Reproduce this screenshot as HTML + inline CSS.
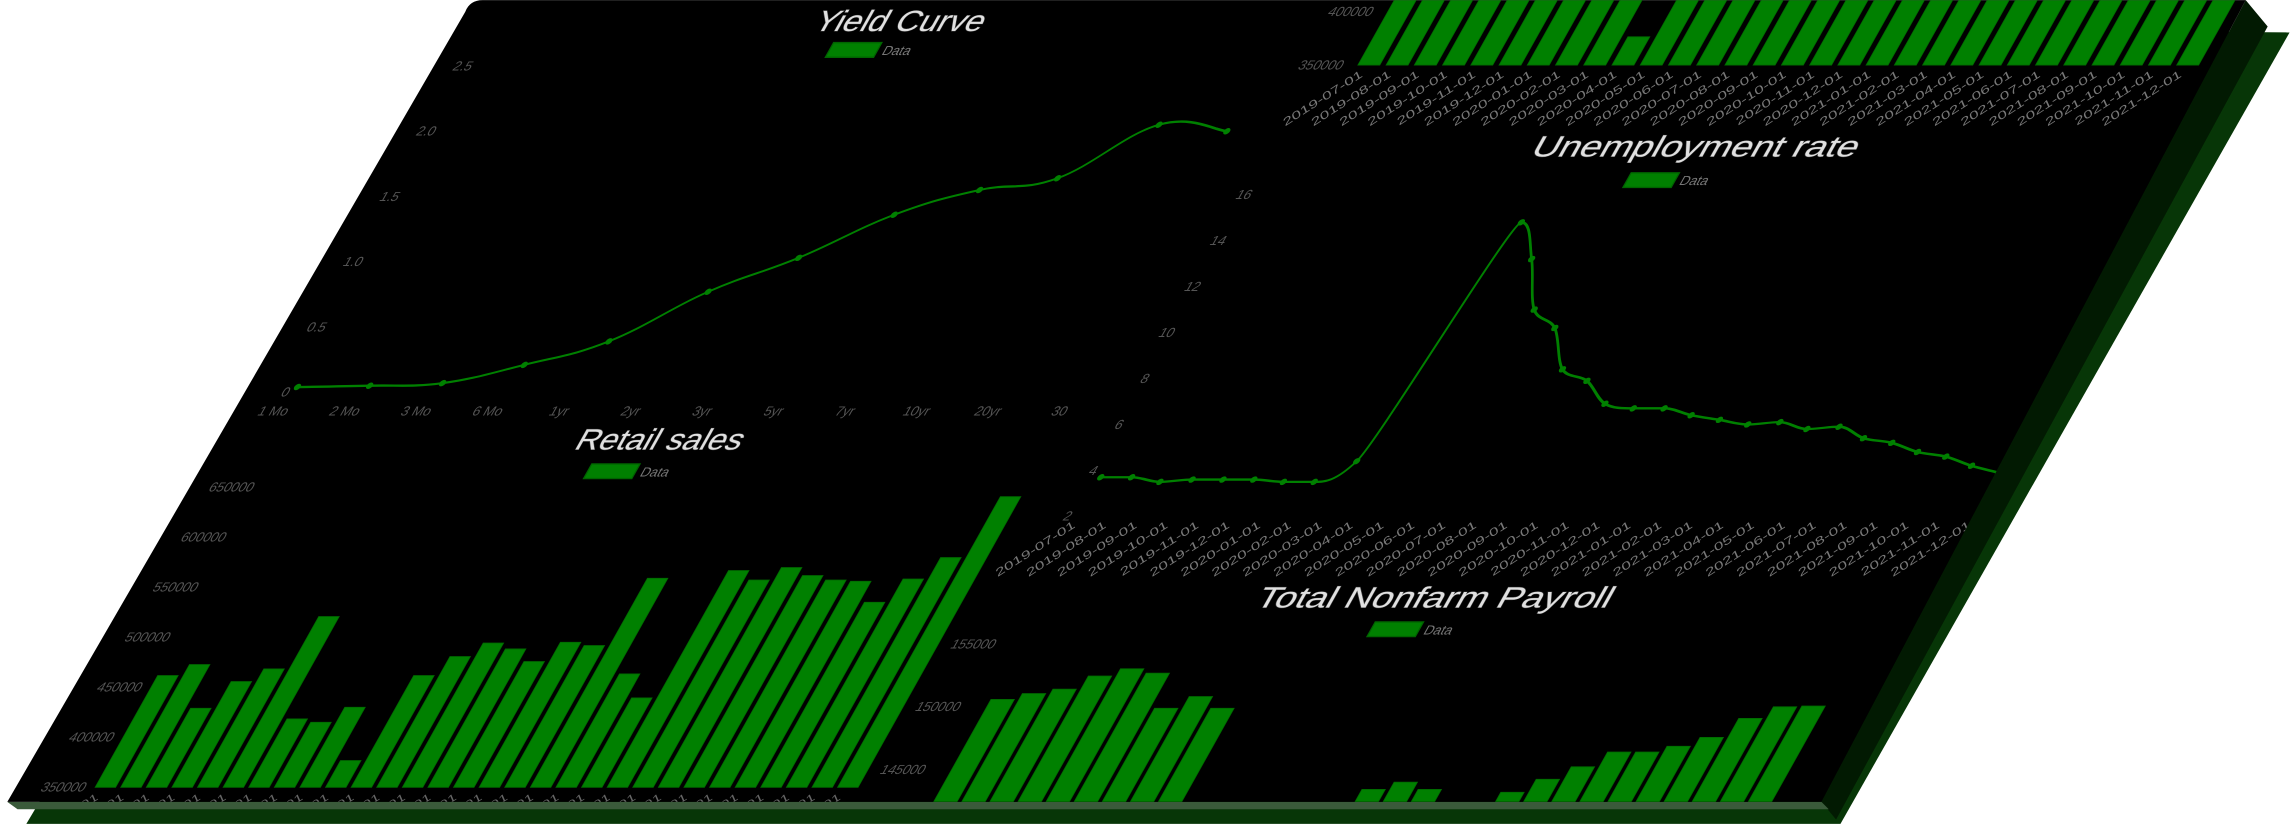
<!DOCTYPE html>
<html><head><meta charset="utf-8">
<style>
html,body{margin:0;padding:0;background:#fff;width:2294px;height:824px;overflow:hidden;}
svg{display:block;}
text{font-family:"Liberation Sans",sans-serif;}
</style></head>
<body>
<svg id="root" width="2294" height="824" viewBox="0 0 1568 563" xmlns="http://www.w3.org/2000/svg">
  <defs>
    <clipPath id="panelClip"><polygon points="330,0 1535,0 1245,548 5,548 318,8"/></clipPath>
  </defs>
  <polygon points="345,14 1565,22 1258,563 18,563" fill="#073607"/>
  <polygon points="1535,0 1550,18 1255,560 1245,548" fill="#021a02"/>
  <polygon points="5,548 1245,548 1250,553 12,553" fill="#3a5a3a"/>
  <path d="M330,0 L1535,0 L1245,548 L5,548 L318,8 Q321,0 330,0 Z" fill="#000"/>
  <g clip-path="url(#panelClip)">
    <g id="content" transform="matrix(1,0,-0.56,1,323,0)"></g>
  </g>
</svg>
<script>
// ---------- data ----------
const yieldLabels = ["1 Mo","2 Mo","3 Mo","6 Mo","1yr","2yr","3yr","5yr","7yr","10yr","20yr","30"];
const yieldValues = [0.04,0.05,0.07,0.21,0.39,0.77,1.03,1.36,1.55,1.64,2.05,2.0];
const yieldTicks = [0,0.5,1.0,1.5,2.0,2.5];
const yieldTickLabels = ["0","0.5","1.0","1.5","2.0","2.5"];

const months = ["2019-07-01","2019-08-01","2019-09-01","2019-10-01","2019-11-01","2019-12-01","2020-01-01","2020-02-01","2020-03-01","2020-04-01","2020-05-01","2020-06-01","2020-07-01","2020-08-01","2020-09-01","2020-10-01","2020-11-01","2020-12-01","2021-01-01","2021-02-01","2021-03-01","2021-04-01","2021-05-01","2021-06-01","2021-07-01","2021-08-01","2021-09-01","2021-10-01","2021-11-01","2021-12-01"];

const retailValues = [461700,472700,429000,455700,468300,520700,418300,415000,430000,376700,461700,480700,494300,488300,475700,495000,491700,559000,463300,439300,566700,557300,569700,561700,557300,556000,535000,558300,579700,640700];
const retailTicks = [350000,400000,450000,500000,550000,600000,650000];

const claimsValues = [450000,450000,450000,450000,450000,450000,450000,450000,450000,376600,450000,450000,450000,450000,450000,450000,450000,450000,450000,450000,450000,450000,450000,450000,450000,450000,450000,450000,450000,450000];
const claimsTicks = [350000,400000,450000];

const unempValues = [3.7,3.7,3.5,3.6,3.6,3.6,3.5,3.5,4.4,14.8,13.2,11.0,10.2,8.4,7.9,6.9,6.7,6.7,6.4,6.2,6.0,6.1,5.8,5.9,5.4,5.2,4.8,4.6,4.2,3.9];
const unempTicks = [2,4,6,8,10,12,14,16];

const payrollValues = [150580,151050,151400,152440,153020,152670,149880,150810,149880,130000,133000,137000,139000,141000,142000,143430,144010,143430,142300,142100,143200,144240,145230,146400,146400,146860,147560,149070,150000,150060];
const payrollTicks = [140000,145000,150000,155000];

// ---------- helpers ----------
const NS = "http://www.w3.org/2000/svg";
const content = document.getElementById("content");
function mk(tag, attrs, parent){
  const e = document.createElementNS(NS, tag);
  for (const k in attrs) e.setAttribute(k, attrs[k]);
  (parent||content).appendChild(e);
  return e;
}
function txt(str, attrs, parent){ const t = mk("text", attrs, parent); t.textContent = str; return t; }
function spline(pts, tension){
  let d = "M" + pts[0][0] + "," + pts[0][1];
  for (let i=0;i<pts.length-1;i++){
    const p0 = pts[Math.max(i-1,0)], p1 = pts[i], p2 = pts[i+1], p3 = pts[Math.min(i+2,pts.length-1)];
    const c1 = [p1[0] + (p2[0]-p0[0])*tension/2, p1[1] + (p2[1]-p0[1])*tension/2];
    const c2 = [p2[0] - (p3[0]-p1[0])*tension/2, p2[1] - (p3[1]-p1[1])*tension/2];
    d += " C" + c1[0] + "," + c1[1] + " " + c2[0] + "," + c2[1] + " " + p2[0] + "," + p2[1];
  }
  return d;
}
function monotone(pts){
  const n = pts.length, dx=[], dy=[], m=[], t=[];
  for (let i=0;i<n-1;i++){ dx[i]=pts[i+1][0]-pts[i][0]; dy[i]=pts[i+1][1]-pts[i][1]; m[i]=dy[i]/dx[i]; }
  t[0]=m[0]; t[n-1]=m[n-2];
  for (let i=1;i<n-1;i++){ t[i] = (m[i-1]*m[i] <= 0) ? 0 : (m[i-1]+m[i])/2; }
  for (let i=0;i<n-1;i++){
    if (m[i]===0){ t[i]=0; t[i+1]=0; continue; }
    const a=t[i]/m[i], b=t[i+1]/m[i], s=a*a+b*b;
    if (s>9){ const k=3/Math.sqrt(s); t[i]=k*a*m[i]; t[i+1]=k*b*m[i]; }
  }
  let d = "M"+pts[0][0]+","+pts[0][1];
  for (let i=0;i<n-1;i++){
    const h=dx[i]/3;
    d += " C"+(pts[i][0]+h)+","+(pts[i][1]+t[i]*h)+" "+(pts[i+1][0]-h)+","+(pts[i+1][1]-t[i+1]*h)+" "+pts[i+1][0]+","+pts[i+1][1];
  }
  return d;
}
function title(str, cx, y, len, name){
  const t = txt(str, {x:cx, y:y, "text-anchor":"middle", "font-size":20, fill:"#e0e0e0", textLength:len, lengthAdjust:"spacingAndGlyphs", style:"paint-order:stroke", stroke:"#444", "stroke-width":0.6});
  
  
}
function legend(cx, y, name){
  const g = mk("g", {});
  
  
  mk("rect", {x:cx-38, y:y-5, width:33, height:10, fill:"#008000", stroke:"#006400", "stroke-width":1}, g);
  txt("Data", {x:cx-1, y:y+3.5, "font-size":9, fill:"#777"}, g);
}

// ---------- Yield Curve ----------
(function(){
  const xs = i => 28.4 + 48.85*i;
  const ys = v => 268 - v*89.2;
  title("Yield Curve", 301, 21, 115, "yield-title");
  legend(301, 34, "yield-legend");
  yieldTicks.forEach((t,i)=>{
    const e = txt(yieldTickLabels[i], {x:25, y:ys(t)+3, "text-anchor":"end", "font-size":9, fill:"#555"});
    
    
  });
  yieldLabels.forEach((l,i)=>{
    const e = txt(l, {x:xs(i)-7, y:284, "text-anchor":"middle", "font-size":9, fill:"#555"});
    
    
  });
  const pts = yieldValues.map((v,i)=>[xs(i), ys(v)]);
  const line = mk("path", {d:spline(pts,0.4), fill:"none", stroke:"#008000", "stroke-width":1.6});
  
  
  pts.forEach(p=>{
    const c = mk("circle", {cx:p[0], cy:p[1], r:2.2, fill:"#008000"});
    
    
  });
})();

// ---------- Retail sales ----------
(function(){
  const xs = i => 43.3 + 17.5*i;
  const ys = v => 538 - (v-350000)/300000*205;
  title("Retail sales", 297, 307, 113, "retail-title");
  legend(297, 322, "retail-legend");
  retailTicks.forEach(t=>{
    const e = txt(String(t), {x:37, y:ys(t)+3, "text-anchor":"end", "font-size":9, fill:"#555"});
    
    
  });
  retailValues.forEach((v,i)=>{
    const r = mk("rect", {x:xs(i), y:ys(v), width:14, height:538-ys(v), fill:"#008000", stroke:"#006a00", "stroke-width":0.6});
    
    
  });
  months.forEach((m,i)=>{
    const cx = xs(i)+7, cy = 546;
    const e = txt(m, {x:cx, y:cy, "text-anchor":"end", "font-size":9, fill:"#666", transform:"rotate(-45 "+cx+" "+cy+")"});
    
    
  });
})();

// ---------- Claims (top right, cut) ----------
(function(){
  const xs = i => 630 + 19.3*i;
  const ys = v => 44.4 - (v-350000)/50000*36.4;
  claimsTicks.forEach(t=>{
    const e = txt(String(t), {x:620, y:ys(t)+3, "text-anchor":"end", "font-size":9, fill:"#555"});
    
    
  });
  claimsValues.forEach((v,i)=>{
    const r = mk("rect", {x:xs(i), y:ys(v), width:15, height:44.4-ys(v), fill:"#008000", stroke:"#006a00", "stroke-width":0.6});
    
    
  });
  months.forEach((m,i)=>{
    const cx = xs(i)+8, cy = 52;
    const e = txt(m, {x:cx, y:cy, "text-anchor":"end", "font-size":9.5, fill:"#777", transform:"rotate(-45 "+cx+" "+cy+")"});
    
    
  });
})();

// ---------- Unemployment rate ----------
(function(){
  const xs = i => 612 + 21.1*i;
  const ys = v => 133 + (16-v)*15.7;
  title("Unemployment rate", 893, 107, 222, "unemployment-title");
  legend(896, 123, "unemployment-legend");
  unempTicks.forEach(t=>{
    const e = txt(String(t), {x:607, y:ys(t)+3, "text-anchor":"end", "font-size":9, fill:"#555"});
    
    
  });
  const pts = unempValues.map((v,i)=>[xs(i), ys(v)]);
  const line = mk("path", {d:monotone(pts), fill:"none", stroke:"#008000", "stroke-width":1.6});
  
  
  pts.forEach(p=>{
    const c = mk("circle", {cx:p[0], cy:p[1], r:2.2, fill:"#008000"});
    
    
  });
  months.forEach((m,i)=>{
    const cx = xs(i)+2, cy = 360;
    const e = txt(m, {x:cx, y:cy, "text-anchor":"end", "font-size":9.5, fill:"#777", transform:"rotate(-45 "+cx+" "+cy+")"});
    
    
  });
})();

// ---------- Total Nonfarm Payroll ----------
(function(){
  const xs = i => 622 + 19.2*i;
  const ys = v => 440 - (v-155000)/5000*43;
  const base = ys(140000);
  title("Total Nonfarm Payroll", 887, 415, 242, "payroll-title");
  legend(893, 430, "payroll-legend");
  payrollTicks.forEach(t=>{
    const e = txt(String(t), {x:604, y:ys(t)+3, "text-anchor":"end", "font-size":9, fill:"#555"});
    
    
  });
  payrollValues.forEach((v,i)=>{
    const r = mk("rect", {x:xs(i), y:ys(v), width:16, height:base-ys(v), fill:"#008000", stroke:"#006a00", "stroke-width":0.6});
    
    
  });
})();
</script>
</body></html>
